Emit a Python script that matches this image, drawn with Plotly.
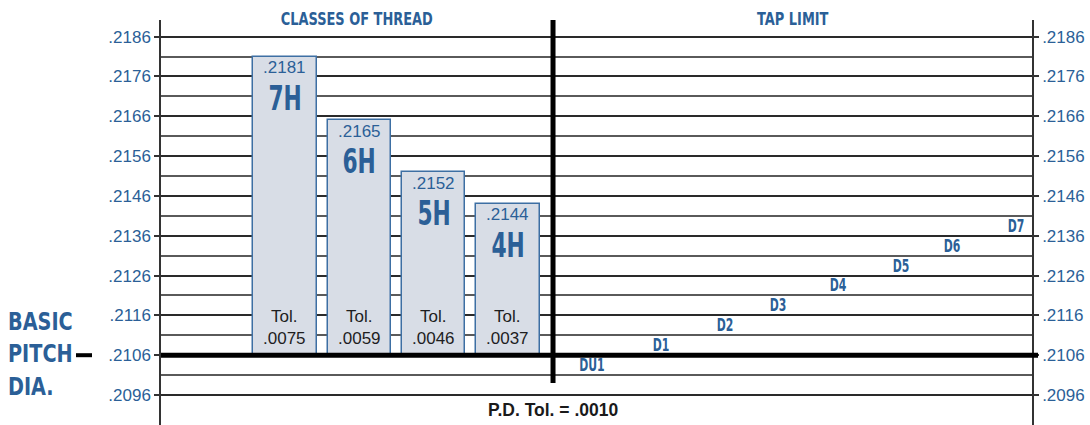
import plotly.graph_objects as go

# ---------------- data ----------------
thread_classes = ["7H", "6H", "5H", "4H"]
class_upper_limits = [0.2181, 0.2165, 0.2152, 0.2144]
class_upper_labels = [".2181", ".2165", ".2152", ".2144"]
class_tolerance_labels = [".0075", ".0059", ".0046", ".0037"]
basic_pitch_dia = 0.2106
basic_label_lines = ["BASIC", "PITCH", "DIA."]

tap_limits = ["DU1", "D1", "D2", "D3", "D4", "D5", "D6", "D7"]
tap_limit_values = [0.2101, 0.2106, 0.2111, 0.2116, 0.2121, 0.2126, 0.2131, 0.2136]

tick_values = [0.2096, 0.2106, 0.2116, 0.2126, 0.2136, 0.2146, 0.2156, 0.2166, 0.2176, 0.2186]
tick_labels = [".2096", ".2106", ".2116", ".2126", ".2136", ".2146", ".2156", ".2166", ".2176", ".2186"]
half_tick_values = [0.2101, 0.2111, 0.2121, 0.2131, 0.2141, 0.2151, 0.2161, 0.2171, 0.2181]

pd_tolerance_text = "P.D. Tol. = .0010"
left_title = "CLASSES OF THREAD"
right_title = "TAP LIMIT"

# ---------------- layout / style ----------------
BLUE = "#2b5f97"
FILL = "#d8dde6"
EDGE = "#3d6fa3"
COND = "DejaVu Sans"             # condensed via scaleX 0.72 (post script)
COND2 = "Verdana, DejaVu Sans"   # condensed via scaleX 0.64 (post script)
COND3 = "Tahoma, DejaVu Sans"    # condensed via scaleX 0.77 (post script)
REG = "Liberation Sans, Helvetica, Arial, sans-serif"

bar_x = [1, 2, 3, 4]
tap_x = [5.13, 6.06, 6.92, 7.63, 8.44, 9.29, 9.97, 10.84]
x_range = [-0.668, 11.05]
divider_x = 4.606
y_range = [0.208847, 0.219018]

fig = go.Figure()

fig.add_trace(go.Bar(
    x=bar_x,
    y=[u - basic_pitch_dia for u in class_upper_limits],
    base=basic_pitch_dia,
    width=0.85,
    marker=dict(color=FILL, line=dict(color=EDGE, width=1.5)),
    hoverinfo="skip",
    showlegend=False,
))

# invisible trace to carry the right axis
fig.add_trace(go.Scatter(x=[x_range[0]], y=[tick_values[0]], yaxis="y2",
                         mode="markers", marker=dict(opacity=0),
                         hoverinfo="skip", showlegend=False))

annotations = []
for x, cls, ulab, u, tlab in zip(bar_x, thread_classes, class_upper_labels,
                                 class_upper_limits, class_tolerance_labels):
    annotations.append(dict(x=x, y=u, text=ulab, showarrow=False, yanchor="middle",
                            yshift=-11, font=dict(family=REG, size=17, color=BLUE)))
    annotations.append(dict(x=x, y=u, text=cls, showarrow=False,
                            yanchor="middle", yshift=-41,
                            font=dict(family=COND2, size=34, color=BLUE, weight=700)))
    annotations.append(dict(x=x, y=basic_pitch_dia, text="Tol.<br>" + tlab,
                            showarrow=False, yanchor="bottom", yshift=5,
                            font=dict(family=REG, size=17, color="#1e1e1e")))

for x, name, v in zip(tap_x, tap_limits, tap_limit_values):
    annotations.append(dict(x=x, y=v, text=name, showarrow=False,
                            yanchor="bottom", yshift=-2,
                            font=dict(family=COND2, size=17, color=BLUE, weight=700)))

annotations += [
    dict(x=(x_range[0] + divider_x) / 2, y=1, yref="paper", text=left_title,
         showarrow=False, yanchor="middle", yshift=2,
         font=dict(family=COND, size=18, color=BLUE, weight=700)),
    dict(x=(divider_x + x_range[1]) / 2, y=1, yref="paper", text=right_title,
         showarrow=False, yanchor="middle", yshift=2,
         font=dict(family=COND, size=18, color=BLUE, weight=700)),
    dict(x=divider_x, y=0.037, yref="paper", text="<b>" + pd_tolerance_text + "</b>",
         showarrow=False, yanchor="middle",
         font=dict(family=REG, size=17.5, color="#1a1a1a")),
    dict(x=-0.178, xref="paper", y=basic_pitch_dia, text="<br>".join(basic_label_lines),
         showarrow=False, xanchor="left", align="left", yanchor="middle", yshift=1,
         font=dict(family=COND3, size=25, color=BLUE, weight=700)),
]

shapes = [
    # thick basic pitch line
    dict(type="line", xref="paper", yref="y", x0=0, x1=1.0069,
         y0=basic_pitch_dia, y1=basic_pitch_dia, line=dict(color="black", width=5)),
    # dash next to "PITCH"
    dict(type="line", xref="paper", yref="y", x0=-0.0976, x1=-0.0792,
         y0=basic_pitch_dia, y1=basic_pitch_dia, line=dict(color="black", width=4)),
    # vertical divider
    dict(type="line", xref="x", yref="y", x0=divider_x, x1=divider_x,
         y0=0.2099, y1=y_range[1], line=dict(color="black", width=5)),
]

axis_common = dict(
    range=y_range, tickmode="array", tickvals=tick_values, ticktext=tick_labels,
    ticks="outside", ticklen=5, tickwidth=1.5, tickcolor="#333",
    tickfont=dict(family=REG, size=17, color=BLUE),
    showline=True, linecolor="#333", linewidth=1.5,
    zeroline=False, fixedrange=True,
)

fig.update_layout(
    width=1090, height=425,
    margin=dict(l=161, r=58, t=20, b=0),
    paper_bgcolor="white", plot_bgcolor="white",
    xaxis=dict(range=x_range, showgrid=False, zeroline=False, showticklabels=False,
               showline=False, ticks="", fixedrange=True),
    yaxis=dict(**axis_common, side="left", showgrid=True, gridcolor="#2a2a2a", gridwidth=1.5,
               minor=dict(tickmode="array", tickvals=half_tick_values, showgrid=True,
                          gridcolor="#5a5a5a", gridwidth=1.5, ticks="")),
    yaxis2=dict(**axis_common, side="right", overlaying="y", showgrid=False),
    annotations=annotations,
    shapes=shapes,
    bargap=0,
)

post = """
document.body.style.margin = '0';
document.querySelectorAll('text.annotation-text').forEach(function (t) {
  var f = t.style.fontFamily || '';
  var s = null;
  if (f.indexOf('Verdana') >= 0) s = 0.64;
  else if (f.indexOf('Tahoma') >= 0) s = 0.77;
  else if (f.indexOf('DejaVu') >= 0) s = 0.72;
  if (s) {
    var a = t.getAttribute('text-anchor');
    var o = a === 'start' ? 'left' : (a === 'end' ? 'right' : 'center');
    t.style.transformBox = 'fill-box';
    t.style.transformOrigin = o + ' center';
    t.style.transform = 'scaleX(' + s + ')';
  }
});
"""

fig.write_html("out.html", post_script=post, config={"displayModeBar": False})
